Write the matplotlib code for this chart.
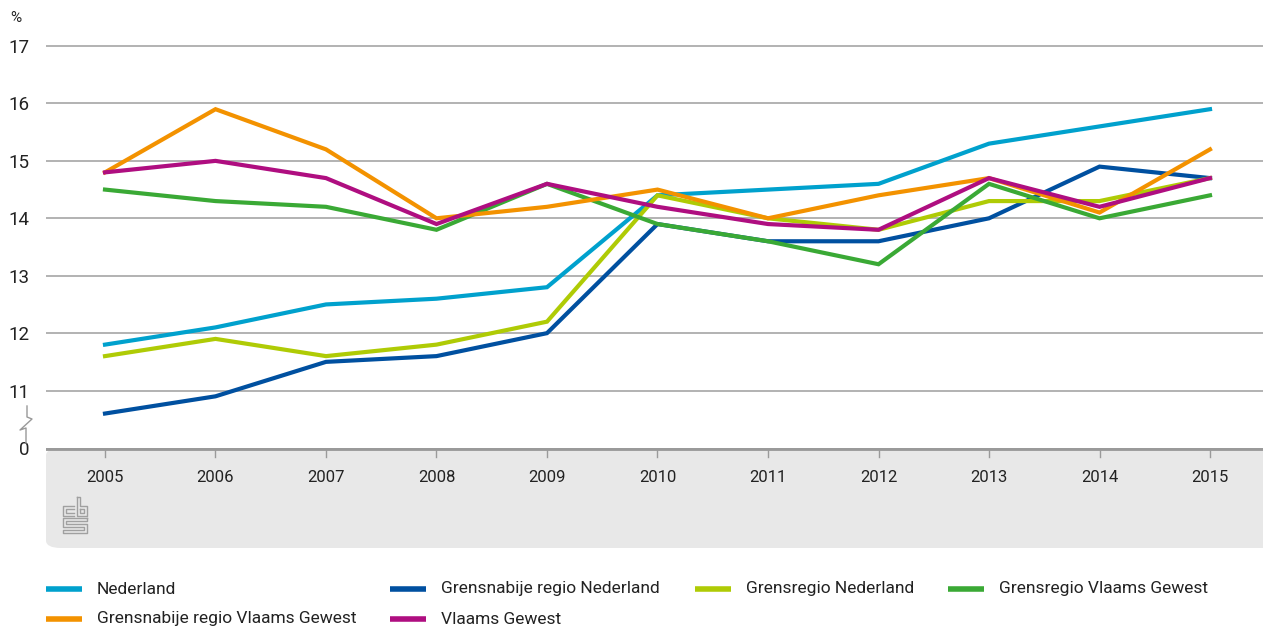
import matplotlib
matplotlib.use("Agg")
import matplotlib.pyplot as plt
from matplotlib.patches import FancyBboxPatch
from matplotlib.lines import Line2D

plt.rcParams["font.family"] = ["Roboto", "DejaVu Sans"]

years = [2005, 2006, 2007, 2008, 2009, 2010, 2011, 2012, 2013, 2014, 2015]

nederland = [11.8, 12.1, 12.5, 12.6, 12.8, 14.4, 14.5, 14.6, 15.3, 15.6, 15.9]
grensnabije_nl = [10.6, 10.9, 11.5, 11.6, 12.0, 13.9, 13.6, 13.6, 14.0, 14.9, 14.7]
grensregio_nl = [11.6, 11.9, 11.6, 11.8, 12.2, 14.4, 14.0, 13.8, 14.3, 14.3, 14.7]
grensregio_vg = [14.5, 14.3, 14.2, 13.8, 14.6, 13.9, 13.6, 13.2, 14.6, 14.0, 14.4]
grensnabije_vg = [14.8, 15.9, 15.2, 14.0, 14.2, 14.5, 14.0, 14.4, 14.7, 14.1, 15.2]
vlaams = [14.8, 15.0, 14.7, 13.9, 14.6, 14.2, 13.9, 13.8, 14.7, 14.2, 14.7]

y_ticks = [10, 11, 12, 13, 14, 15, 16, 17]
y_labels = ["0", "11", "12", "13", "14", "15", "16", "17"]

series = [
    ("Nederland", nederland, "#00a1cd"),
    ("Grensnabije regio Nederland", grensnabije_nl, "#0050a0"),
    ("Grensregio Nederland", grensregio_nl, "#afcb05"),
    ("Grensregio Vlaams Gewest", grensregio_vg, "#3aa935"),
    ("Grensnabije regio Vlaams Gewest", grensnabije_vg, "#f39200"),
    ("Vlaams Gewest", vlaams, "#af0e80"),
]
# legend slots (column, row) as in the original
legend_pos = [(0, 0), (1, 0), (2, 0), (3, 0), (0, 1), (1, 1)]

W, H = 1263, 627
fig = plt.figure(figsize=(W / 100, H / 100), dpi=100)

unit = (390 - 46) / 6.0
top_px = 30
ax = fig.add_axes([46 / W, 1 - 448 / H, 1 - 46 / W, (448 - top_px) / H])
ax.set_xlim(2005 - 59 / 110.5, 2015 + 53 / 110.5)
ax.set_ylim(10, 17 + (46 - top_px) / unit)

for v in y_ticks[1:]:
    ax.axhline(v, color="#a6a6a6", linewidth=1.2, zorder=1)

for name, vals, col in series:
    ax.plot(years, vals, color=col, linewidth=3, zorder=3, solid_joinstyle="miter")

ax.set_yticks(y_ticks)
ax.set_yticklabels(y_labels, fontsize=13.5, color="#222222")
ax.tick_params(axis="y", length=0, pad=12)
ax.set_xticks([])
for s in ax.spines.values():
    s.set_visible(False)

fig.text(10 / W, 1 - 18 / H, "%", fontsize=11, color="#222222", va="center")

# axis break symbol
bpx = [(27, 406), (27, 417), (32, 419), (20, 430), (26, 428), (26, 443)]
fig.add_artist(Line2D([p[0] / W for p in bpx], [1 - p[1] / H for p in bpx],
                      color="#999999", linewidth=1.0))

# grey panel below the axis
pax = fig.add_axes([46 / W, 1 - 548 / H, 1 - 46 / W, 100 / H])
pax.set_xlim(0, W - 46)
pax.set_ylim(100, 0)
pax.axis("off")
fig.add_artist(FancyBboxPatch((46 / W, 1 - 548 / H), 1.2 - 46 / W, 100 / H,
                              boxstyle="round,pad=0,rounding_size=0.012",
                              transform=fig.transFigure, facecolor="#e8e8e8",
                              edgecolor="none", zorder=0))
pax.axhline(0, color="#9a9a9a", linewidth=3.5, zorder=2)
x0, x1 = ax.get_xlim()
for yr in years:
    px = (yr - x0) / (x1 - x0) * (W - 46)
    pax.plot([px, px], [0, 9], color="#9a9a9a", linewidth=1.0)
    pax.text(px, 30, str(yr), ha="center", va="center", fontsize=12, color="#222222")

# cbs logo (simplified outline), pixel offsets inside the panel
lc = "#a0a0a0"
ox, oy = 17, 49
logo = [
    [(11, 9), (0, 9), (0, 19), (11, 19)],
    [(11, 12), (3, 12), (3, 16), (11, 16)],
    [(14, 0), (14, 19), (24, 19), (24, 9), (17, 9), (17, 0), (14, 0)],
    [(17, 12), (21, 12), (21, 16), (17, 16), (17, 12)],
    [(24, 21), (0, 21), (0, 30), (21, 30), (21, 33), (0, 33), (0, 36), (24, 36),
     (24, 27), (3, 27), (3, 24), (24, 24), (24, 21)],
]
for path in logo:
    pax.plot([ox + p[0] for p in path], [oy + p[1] for p in path], color=lc, linewidth=1.0)

# legend
col_x = [46, 390, 695, 948]
row_y = [589, 619]
for (name, vals, col), (c, r) in zip(series, legend_pos):
    lx = col_x[c]
    ly = 1 - row_y[r] / H
    fig.add_artist(Line2D([lx / W, (lx + 36) / W], [ly, ly], color=col, linewidth=4,
                          solid_capstyle="butt"))
    fig.text((lx + 51) / W, ly, name, fontsize=12.5, color="#222222", va="center")

fig.savefig("out.png", dpi=100)
